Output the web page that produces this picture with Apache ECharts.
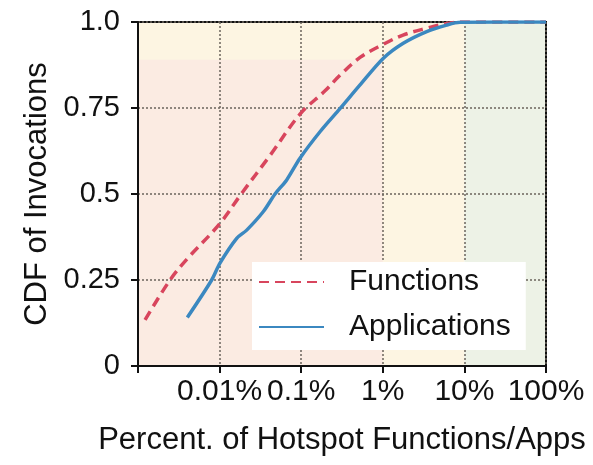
<!DOCTYPE html>
<html>
<head>
<meta charset="utf-8">
<script src="https://cdn.jsdelivr.net/npm/echarts@6/dist/echarts.min.js"></script>
<style>
  html, body { margin: 0; padding: 0; background: #fff; }
  #chart { width: 593px; height: 465px; }
</style>
</head>
<body>
<div id="chart"></div>
<script>
// Percent of hotspot functions/apps (log scale) vs. CDF of invocations
const funcX = [0.00122, 0.00247, 0.0041, 0.01, 0.0188, 0.0415, 0.0966, 0.196, 0.2985, 0.526, 0.97, 1.77, 3.48, 6.12, 10, 100];
const funcY = [0.134, 0.25, 0.314, 0.413, 0.503, 0.612, 0.732, 0.800, 0.845, 0.897, 0.933, 0.962, 0.982, 0.996, 1.0, 1.0];

const appX = [0.00402, 0.0080, 0.0101, 0.0162, 0.0215, 0.0344, 0.0478, 0.0664, 0.0966, 0.170, 0.2985, 0.526, 1.01, 1.78, 3.45, 6.07, 8.83, 100];
const appY = [0.141, 0.25, 0.299, 0.371, 0.395, 0.449, 0.50, 0.541, 0.604, 0.681, 0.748, 0.817, 0.894, 0.938, 0.972, 0.991, 0.999, 1.0];

const xTickLabels = { '-3': '', '-2': '0.01%', '-1': '0.1%', '0': '1%', '1': '10%', '2': '100%' };
const yTickLabels = { '0': '0', '0.25': '0.25', '0.5': '0.5', '0.75': '0.75', '1': '1.0' };

// shaded bands: [x0, x1, y0, y1, colour]
const bandYellow = [0.001, 10, 0, 1, '#fdf5e2'];
const bandPink = [0.001, 1, 0, 0.89, '#fbebe2'];
const bandGreen = [10, 100, 0, 1, '#edf2e6'];

const FONT = 'Liberation Sans, Arial, sans-serif';
const chart = echarts.init(document.getElementById('chart'), null, { renderer: 'canvas' });

function zipXY(xs, ys) { return xs.map((x, i) => [x, ys[i]]); }
function band(b) {
  return [{ coord: [b[0], b[2]], itemStyle: { color: b[4] } }, { coord: [b[1], b[3]] }];
}

chart.setOption({
  backgroundColor: '#fff',
  animation: false,
  textStyle: { fontFamily: FONT },
  grid: {
    left: 138, right: 47, top: 22, bottom: 99,
    outerBoundsMode: 'none',
    containLabel: false,
    show: true, borderColor: '#111', borderWidth: 2, backgroundColor: 'transparent'
  },
  legend: {
    orient: 'vertical',
    left: 252, top: 262,
    backgroundColor: '#fff',
    padding: [5, 15, 8, 6],
    itemGap: 15,
    itemWidth: 65, itemHeight: 14,
    itemStyle: { opacity: 0 },
    textStyle: { fontSize: 30, color: '#111', fontFamily: FONT, padding: [0, 0, 0, 20] },
    data: ['Functions', 'Applications']
  },
  xAxis: {
    type: 'log', logBase: 10, min: 0.001, max: 100,
    name: 'Percent. of Hotspot Functions/Apps',
    nameLocation: 'middle', nameGap: 59,
    nameTextStyle: { fontSize: 31, color: '#111', fontFamily: FONT },
    axisLine: { show: true, lineStyle: { color: '#111', width: 2 } },
    axisTick: { show: true, length: 7, inside: false, lineStyle: { color: '#111', width: 2 } },
    minorTick: { show: false },
    axisLabel: {
      fontSize: 30, color: '#111', margin: 11, fontFamily: FONT,
      formatter: v => xTickLabels[String(Math.round(Math.log10(v)))] || ''
    },
    splitLine: { show: true, lineStyle: { color: '#6b645c', type: [2, 2], width: 1.5 } }
  },
  yAxis: {
    type: 'value', min: 0, max: 1, interval: 0.25,
    name: 'CDF of Invocations',
    nameLocation: 'middle', nameGap: 83,
    nameTextStyle: { fontSize: 31, color: '#111', fontFamily: FONT },
    axisLine: { show: true, lineStyle: { color: '#111', width: 2 } },
    axisTick: { show: true, length: 7, lineStyle: { color: '#111', width: 2 } },
    axisLabel: {
      fontSize: 29, color: '#111', margin: 18, fontFamily: FONT,
      formatter: v => yTickLabels[String(v)] !== undefined ? yTickLabels[String(v)] : ''
    },
    splitLine: { show: true, lineStyle: { color: '#6b645c', type: [2, 2], width: 1.5 } }
  },
  series: [
    {
      name: 'bands', type: 'line', z: -1, silent: true,
      data: [], symbol: 'none',
      markArea: {
        z: -1,
        silent: true,
        data: [band(bandYellow), band(bandPink), band(bandGreen)]
      }
    },
    {
      name: 'Functions', type: 'line', z: 3,
      data: zipXY(funcX, funcY),
      symbol: 'none', smooth: 0.35,
      lineStyle: { color: '#d8455d', width: 3.5, type: [10, 6] },
      itemStyle: { color: '#d8455d' }
    },
    {
      name: 'Applications', type: 'line', z: 4,
      data: zipXY(appX, appY),
      symbol: 'none', smooth: 0.3,
      lineStyle: { color: '#3b88c0', width: 3.5 },
      itemStyle: { color: '#3b88c0' }
    }
  ]
});
</script>
</body>
</html>
